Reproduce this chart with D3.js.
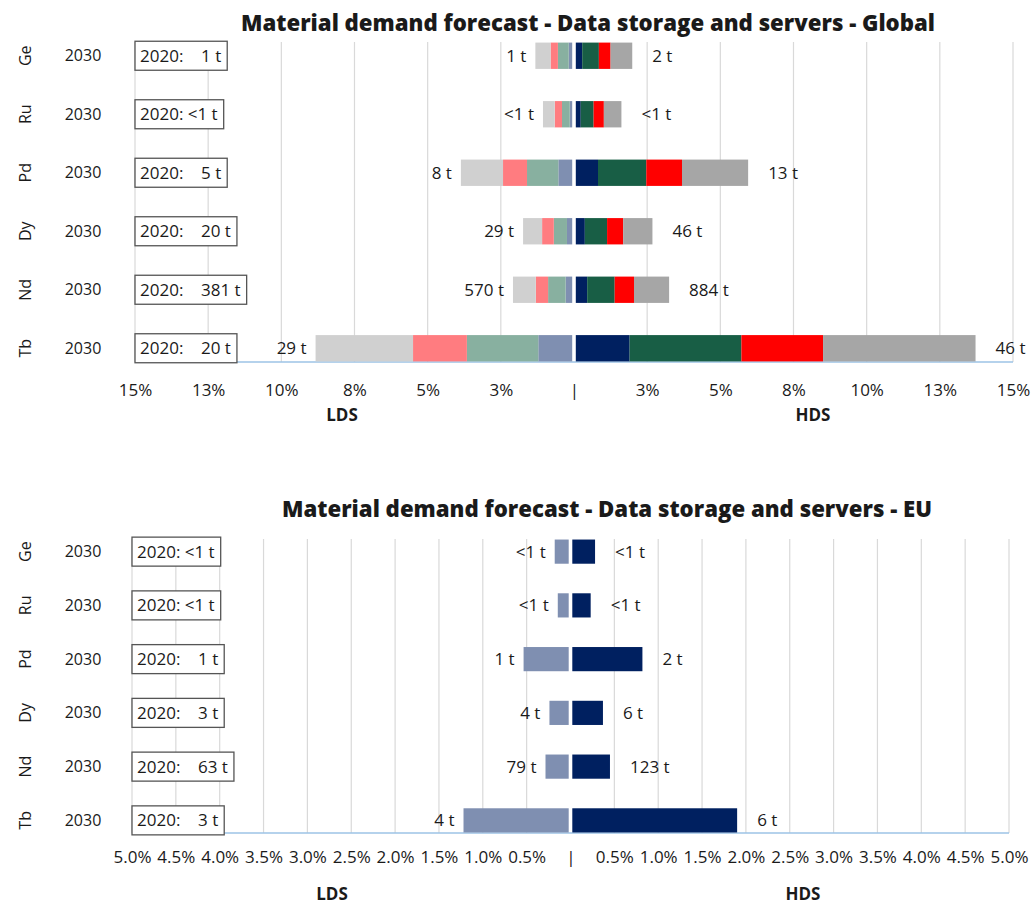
<!DOCTYPE html>
<html>
<head>
<meta charset="utf-8">
<script src="https://cdn.jsdelivr.net/npm/d3@7"></script>
<style>
  body { margin: 0; background: #fff; }
  text { font-family: "Open Sans", sans-serif; fill: #1a1a1a; }
</style>
</head>
<body>
<div id="chart"></div>
<script>
const W = 1036, H = 904;

const metals = ["Ge", "Ru", "Pd", "Dy", "Nd", "Tb"];
const yearLabel = "2030";

// share of supply (%) - EU part, also the inner segment of the global bars
const euLDS = [0.18, 0.145, 0.535, 0.24, 0.285, 1.22];
const euHDS = [0.28, 0.23, 0.82, 0.37, 0.45, 1.90];

// remaining global segments (%), from centre outwards
const ldsSeg2 = [0.37, 0.265, 1.07, 0.45, 0.60, 2.44];
const ldsSeg3 = [0.25, 0.25, 0.82, 0.40, 0.42, 1.84];
const ldsSeg4 = [0.52, 0.40, 1.44, 0.65, 0.78, 3.33];
const hdsSeg2 = [0.57, 0.44, 1.65, 0.76, 0.94, 3.82];
const hdsSeg3 = [0.40, 0.35, 1.22, 0.55, 0.66, 2.79];
const hdsSeg4 = [0.74, 0.60, 2.26, 1.00, 1.20, 5.21];

// text labels
const globalLDSLabels = ["1 t", "<1 t", "8 t", "29 t", "570 t", "29 t"];
const globalHDSLabels = ["2 t", "<1 t", "13 t", "46 t", "884 t", "46 t"];
const global2020 = ["1 t", "<1 t", "5 t", "20 t", "381 t", "20 t"];
const euLDSLabels = ["<1 t", "<1 t", "1 t", "4 t", "79 t", "4 t"];
const euHDSLabels = ["<1 t", "<1 t", "2 t", "6 t", "123 t", "6 t"];
const eu2020 = ["<1 t", "<1 t", "1 t", "3 t", "63 t", "3 t"];

const globalTicks = ["15%", "13%", "10%", "8%", "5%", "3%", "|", "3%", "5%", "8%", "10%", "13%", "15%"];
const euTicks = ["5.0%", "4.5%", "4.0%", "3.5%", "3.0%", "2.5%", "2.0%", "1.5%", "1.0%", "0.5%", "|",
                 "0.5%", "1.0%", "1.5%", "2.0%", "2.5%", "3.0%", "3.5%", "4.0%", "4.5%", "5.0%"];

const ldsColors = ["#7f8fb1", "#88b0a0", "#ff7c80", "#d0d0d0"];
const hdsColors = ["#002060", "#185e45", "#ff0000", "#a6a6a6"];

const svg = d3.select("#chart").append("svg")
    .attr("width", W)
    .attr("height", H);

function drawPanel(opt) {
    const g = svg.append("g");
    const max = opt.max;
    const x = d3.scaleLinear().domain([-max, max]).range([opt.x0, opt.x1]);
    const y = d3.scaleBand().domain(metals).range([opt.top, opt.bottom])
        .paddingInner(0.55).paddingOuter(0.01);
    const tickVals = d3.range(opt.tickLabels.length).map(i => -max + i * opt.step);
    const gap = 1.8;

    // grid
    g.selectAll(".grid")
        .data(tickVals.filter(v => Math.abs(v) > 1e-9))
        .join("line")
        .attr("x1", d => x(d)).attr("x2", d => x(d))
        .attr("y1", opt.top).attr("y2", opt.bottom)
        .attr("stroke", "#d9d9d9")
        .attr("stroke-width", 1.2);

    // axis baseline
    g.append("line")
        .attr("x1", opt.x0).attr("x2", opt.x1)
        .attr("y1", opt.bottom).attr("y2", opt.bottom)
        .attr("stroke", "#9dc3e6")
        .attr("stroke-width", 1.5);

    // stacked segments
    const segs = [];
    metals.forEach((m, i) => {
        let acc = 0;
        opt.lds.forEach((arr, k) => {
            segs.push({ m, side: -1, start: acc, end: acc + arr[i], color: ldsColors[k] });
            acc += arr[i];
        });
        acc = 0;
        opt.hds.forEach((arr, k) => {
            segs.push({ m, side: 1, start: acc, end: acc + arr[i], color: hdsColors[k] });
            acc += arr[i];
        });
    });

    g.selectAll(".seg")
        .data(segs)
        .join("rect")
        .attr("x", d => d.side < 0 ? x(-d.end) : x(d.start) + (d.start === 0 ? gap : 0))
        .attr("width", d => {
            const w = Math.abs(x(d.end) - x(d.start));
            return Math.max(0, d.start === 0 ? w - gap : w);
        })
        .attr("y", d => y(d.m))
        .attr("height", y.bandwidth())
        .attr("fill", d => d.color);

    const totL = metals.map((m, i) => d3.sum(opt.lds, a => a[i]));
    const totR = metals.map((m, i) => d3.sum(opt.hds, a => a[i]));

    // value labels
    g.selectAll(".lblL")
        .data(metals)
        .join("text")
        .attr("x", (d, i) => x(-totL[i]) - 9)
        .attr("y", d => y(d) + y.bandwidth() / 2)
        .attr("dy", "0.35em")
        .attr("text-anchor", "end")
        .style("font-size", "17px")
        .text((d, i) => opt.ldsLabels[i]);

    g.selectAll(".lblR")
        .data(metals)
        .join("text")
        .attr("x", (d, i) => x(totR[i]) + 20)
        .attr("y", d => y(d) + y.bandwidth() / 2)
        .attr("dy", "0.35em")
        .style("font-size", "17px")
        .text((d, i) => opt.hdsLabels[i]);

    // row labels on the left
    metals.forEach((m, i) => {
        const cy = y(m) + y.bandwidth() / 2;
        g.append("text")
            .attr("transform", `translate(25,${cy}) rotate(-90)`)
            .attr("dy", "0.35em")
            .attr("text-anchor", "middle")
            .style("font-size", "16px")
            .text(m);

        g.append("text")
            .attr("x", 83).attr("y", cy)
            .attr("dy", "0.35em")
            .attr("text-anchor", "middle")
            .style("font-size", "16px")
            .text(yearLabel);

        const v = opt.base2020[i];
        const box = g.append("g");
        const rect = box.append("rect");
        const t = box.append("text")
            .attr("x", opt.x0 + 5).attr("y", cy)
            .attr("dy", "0.35em")
            .style("font-size", "17px")
            .style("white-space", "pre")
            .attr("xml:space", "preserve")
            .text(v.startsWith("<") ? "2020: " + v : "2020:    " + v);
        const bw = t.node().getComputedTextLength();
        rect.attr("x", opt.x0).attr("y", cy - 14.5)
            .attr("width", bw + 11).attr("height", 29)
            .attr("fill", "#fff")
            .attr("stroke", "#555")
            .attr("stroke-width", 1.3);
    });

    // tick labels
    const ax = g.append("g")
        .attr("transform", `translate(0,${opt.bottom})`)
        .call(d3.axisBottom(x).tickValues(tickVals).tickSize(0).tickPadding(opt.tickPad)
            .tickFormat((d, i) => opt.tickLabels[i]));
    ax.select(".domain").remove();
    ax.selectAll("text")
        .style("font-family", "'Open Sans', sans-serif")
        .style("font-size", "17px")
        .attr("fill", "#1a1a1a");

    g.append("text")
        .attr("x", opt.ldsX).attr("y", opt.sideY)
        .attr("dy", "0.35em")
        .attr("text-anchor", "middle")
        .style("font-size", "17px").style("font-weight", "bold")
        .text("LDS");
    g.append("text")
        .attr("x", opt.hdsX).attr("y", opt.sideY)
        .attr("dy", "0.35em")
        .attr("text-anchor", "middle")
        .style("font-size", "17px").style("font-weight", "bold")
        .text("HDS");

    g.append("text")
        .attr("x", opt.titleX).attr("y", opt.titleY)
        .attr("text-anchor", "middle")
        .attr("textLength", opt.titleW)
        .attr("lengthAdjust", "spacingAndGlyphs")
        .style("font-size", "22px").style("font-weight", "800")
        .text(opt.title);
}

drawPanel({
    title: "Material demand forecast - Data storage and servers - Global",
    titleX: 588, titleY: 31, titleW: 694,
    x0: 135, x1: 1013, top: 42, bottom: 362,
    max: 15, step: 2.5, tickLabels: globalTicks, tickPad: 22,
    lds: [euLDS, ldsSeg2, ldsSeg3, ldsSeg4],
    hds: [euHDS, hdsSeg2, hdsSeg3, hdsSeg4],
    ldsLabels: globalLDSLabels, hdsLabels: globalHDSLabels, base2020: global2020,
    ldsX: 342, hdsX: 813, sideY: 415
});

drawPanel({
    title: "Material demand forecast - Data storage and servers - EU",
    titleX: 607, titleY: 517, titleW: 650,
    x0: 132, x1: 1009, top: 539, bottom: 833,
    max: 5, step: 0.5, tickLabels: euTicks, tickPad: 18,
    lds: [euLDS],
    hds: [euHDS],
    ldsLabels: euLDSLabels, hdsLabels: euHDSLabels, base2020: eu2020,
    ldsX: 332, hdsX: 803, sideY: 894
});
</script>
</body>
</html>
